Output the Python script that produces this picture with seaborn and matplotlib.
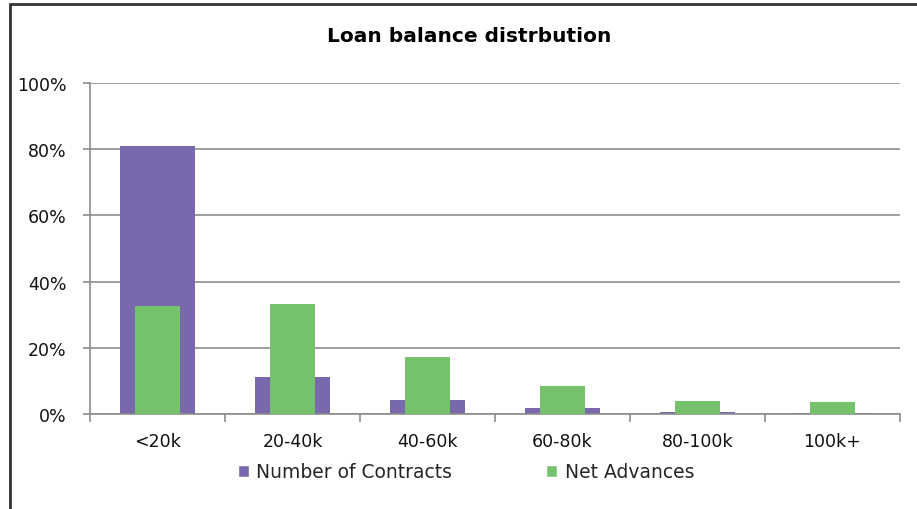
import matplotlib
matplotlib.use("Agg")
import matplotlib.pyplot as plt
from matplotlib.lines import Line2D
from matplotlib.patches import Patch
from matplotlib.ticker import FixedLocator, PercentFormatter
import seaborn as sns
import pandas as pd

# Loan balance bands and the share of each measure (percent)
bands = ["<20k", "20-40k", "40-60k", "60-80k", "80-100k", "100k+"]
contracts = [81.0, 11.2, 4.2, 1.8, 0.6, 0.3]
net_advances = [32.6, 33.2, 17.2, 8.5, 3.9, 3.6]

PURPLE = "#7A68AD"
GREEN = "#76C16B"
GRID = "#8C8C8C"

sns.set_theme(style="white")
plt.rcParams["font.family"] = ["DejaVu Sans"]

df = pd.DataFrame({"band": bands, "contracts": contracts, "net": net_advances})

fig = plt.figure(figsize=(9.17, 5.10), dpi=100)
ax = fig.add_axes([90 / 917, 1 - 415 / 510, 810 / 917, 331 / 510])

sns.barplot(data=df, x="band", y="contracts", color=PURPLE, width=0.55,
            saturation=1, linewidth=0, ax=ax, zorder=2)
sns.barplot(data=df, x="band", y="net", color=GREEN, width=0.33,
            saturation=1, linewidth=0, ax=ax, zorder=3)

ax.set_xlim(-0.5, len(bands) - 0.5)
ax.set_ylim(0, 100)
ax.set_xlabel("")
ax.set_ylabel("")

ax.yaxis.set_major_locator(FixedLocator([0, 20, 40, 60, 80, 100]))
ax.yaxis.set_major_formatter(PercentFormatter(decimals=0))
ax.grid(axis="y", color=GRID, linewidth=1.2, zorder=0)
ax.set_axisbelow(True)

# Category boundary ticks on the x axis
ax.set_xticks([i - 0.5 for i in range(len(bands) + 1)], minor=True)
ax.tick_params(axis="x", which="minor", length=6, width=1.2, color=GRID,
               direction="out", bottom=True)
ax.tick_params(axis="x", which="major", length=0, pad=13, labelsize=12.5,
               labelcolor="#111111")
ax.tick_params(axis="y", which="major", length=5, width=1.2, color=GRID,
               direction="out", left=True, pad=12, labelsize=12.5,
               labelcolor="#111111")

for side in ["top", "right"]:
    ax.spines[side].set_visible(False)
for side in ["left", "bottom"]:
    ax.spines[side].set_color(GRID)
    ax.spines[side].set_linewidth(1.2)

fig.text(469 / 917, 1 - 36 / 510, "Loan balance distrbution", ha="center",
         va="center", fontsize=14.5, fontweight="bold", color="#000000")

handles = [Patch(facecolor=PURPLE, label="Number of Contracts"),
           Patch(facecolor=GREEN, label="Net Advances")]
fig.legend(handles=handles, loc="center", bbox_to_anchor=(466 / 917, 1 - 473 / 510),
           ncol=2, frameon=False, fontsize=13.5, handlelength=0.6, handleheight=0.6,
           handletextpad=0.4, columnspacing=5.0)

# Outer frame around the chart area
fig.add_artist(Line2D([10 / 917, 10 / 917], [0, 1 - 5 / 510], color="#333333",
                      linewidth=2, transform=fig.transFigure))
fig.add_artist(Line2D([10 / 917, 1], [1 - 5 / 510, 1 - 5 / 510], color="#333333",
                      linewidth=2, transform=fig.transFigure))

fig.savefig("out.png", dpi=100)
